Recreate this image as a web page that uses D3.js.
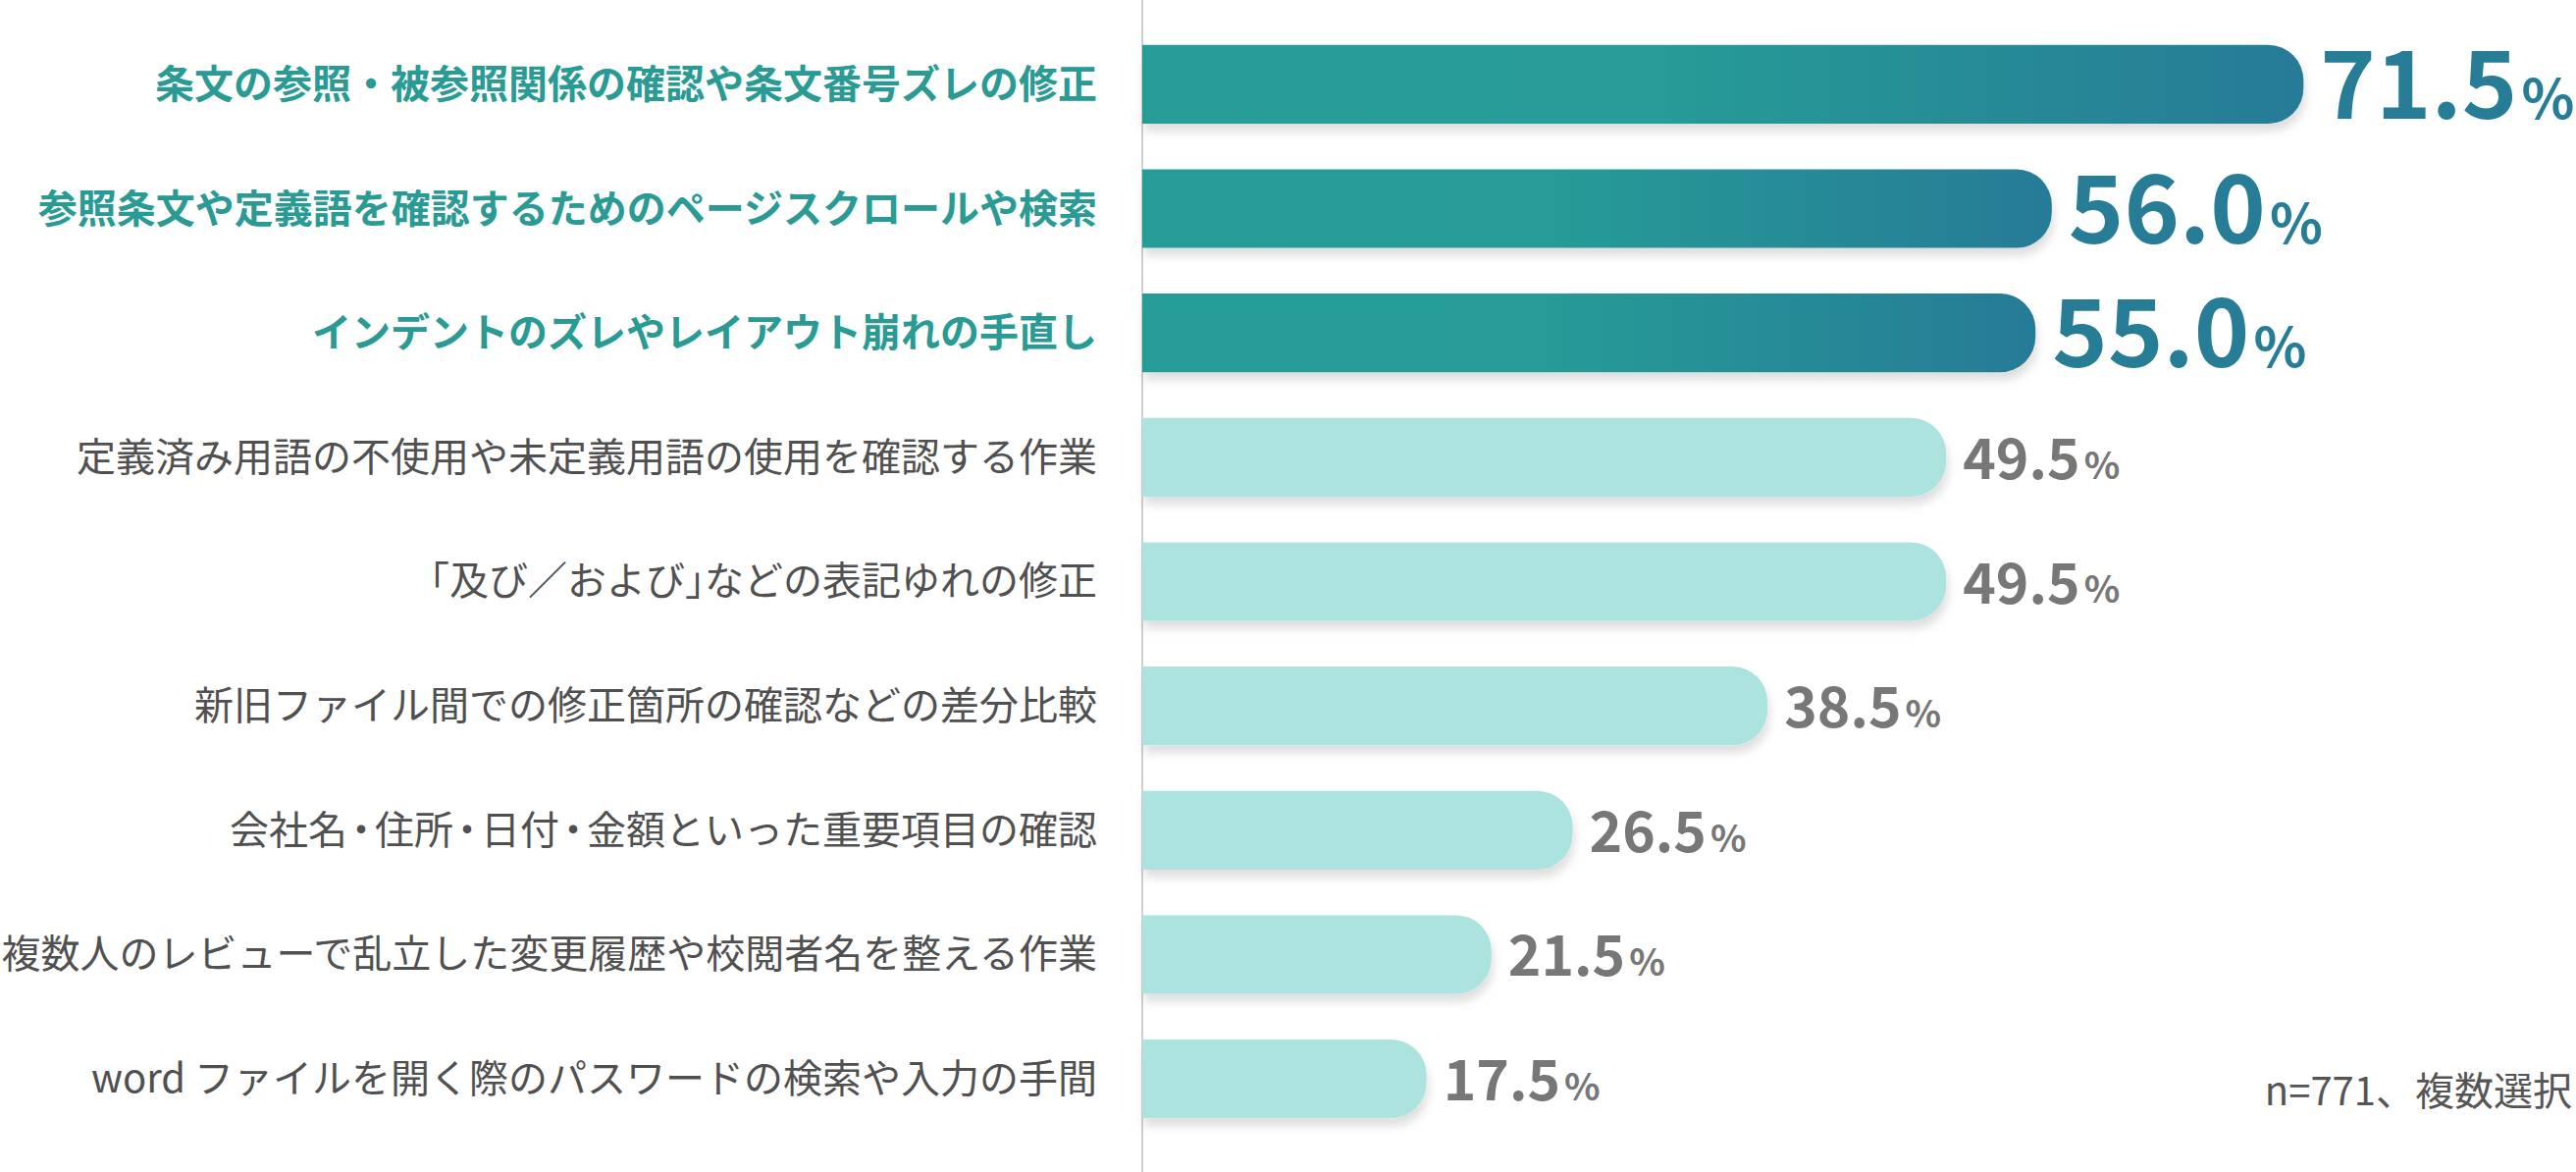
<!DOCTYPE html>
<html>
<head>
<meta charset="utf-8">
<script src="https://cdn.jsdelivr.net/npm/d3@7"></script>
<style>
  html, body { margin: 0; padding: 0; background: #fff; }
  svg { display: block; font-family: "Noto Sans CJK JP", "Noto Sans", sans-serif; }
  .halt { font-feature-settings: "halt"; }
</style>
</head>
<body>
<svg id="chart"></svg>
<script>
const categories = [
  '条文の参照・被参照関係の確認や条文番号ズレの修正',
  '参照条文や定義語を確認するためのページスクロールや検索',
  'インデントのズレやレイアウト崩れの手直し',
  '定義済み用語の不使用や未定義用語の使用を確認する作業',
  '「及び／および」などの表記ゆれの修正',
  '新旧ファイル間での修正箇所の確認などの差分比較',
  '会社名・住所・日付・金額といった重要項目の確認',
  '複数人のレビューで乱立した変更履歴や校閲者名を整える作業',
  'word ファイルを開く際のパスワードの検索や入力の手間'
];
const values = [71.5, 56.0, 55.0, 49.5, 49.5, 38.5, 26.5, 21.5, 17.5];
const topN = 3;
const note = 'n=771、複数選択';

let width = 2625, height = 1194;
let margin = { top: 23, bottom: 32, axis: 1164 };

let svg = d3.select('#chart')
  .attr('width', width)
  .attr('height', height);

let defs = svg.append('defs');

let grad = defs.append('linearGradient')
  .attr('id', 'darkGrad')
  .attr('x1', '0%').attr('x2', '100%');
grad.append('stop').attr('offset', '0%').attr('stop-color', '#289c97');
grad.append('stop').attr('offset', '45%').attr('stop-color', '#289b97');
grad.append('stop').attr('offset', '100%').attr('stop-color', '#267b96');

let shadow = defs.append('filter')
  .attr('id', 'shadow')
  .attr('x', '-5%').attr('y', '-20%')
  .attr('width', '110%').attr('height', '150%');
shadow.append('feDropShadow')
  .attr('dx', 2).attr('dy', 8)
  .attr('stdDeviation', 5)
  .attr('flood-color', '#000')
  .attr('flood-opacity', 0.13);

let xScale = d3.scaleLinear()
  .domain([0, 100])
  .range([margin.axis, margin.axis + 1655]);

let yScale = d3.scaleBand()
  .domain(categories)
  .range([margin.top, height - margin.bottom])
  .paddingInner(0.367)
  .paddingOuter(0.18);

let barH = yScale.bandwidth();
let r = 36;

// rounded on the right end only
let barPath = (w, h) => {
  let rr = Math.min(r, w, h / 2);
  return `M0,0 H${w - rr} A${rr},${rr} 0 0 1 ${w},${rr} V${h - rr} A${rr},${rr} 0 0 1 ${w - rr},${h} H0 Z`;
};

// vertical axis line
svg.append('line')
  .attr('x1', margin.axis).attr('x2', margin.axis)
  .attr('y1', 0).attr('y2', height)
  .attr('stroke', '#d0d0d0')
  .attr('stroke-width', 2);

let rows = svg.selectAll('.row')
  .data(categories)
  .enter()
  .append('g')
  .attr('class', 'row')
  .attr('transform', d => `translate(0, ${yScale(d)})`);

rows.append('path')
  .attr('transform', `translate(${xScale(0)}, 0)`)
  .attr('d', (d, i) => barPath(xScale(values[i]) - xScale(0), barH))
  .attr('fill', (d, i) => i < topN ? 'url(#darkGrad)' : '#ade3de')
  .attr('filter', 'url(#shadow)');

let labels = rows.append('text')
  .attr('x', 1118)
  .attr('y', barH / 2 + 14)
  .attr('text-anchor', 'end')
  .attr('font-size', 40)
  .attr('font-weight', (d, i) => i < topN ? 700 : 400)
  .attr('fill', (d, i) => i < topN ? '#2a9a94' : '#505050');

// plain labels set brackets and middle dots half width
labels.each(function(d, i) {
  let t = d3.select(this);
  if (i < topN) { t.text(d); return; }
  d.split(/([「」・])/).filter(s => s.length).forEach(s => {
    let sp = t.append('tspan').text(s);
    if (/^[「」・]$/.test(s)) sp.attr('class', 'halt');
    if (s === '・') sp.attr('dx', 4).style('letter-spacing', '4px');
  });
});

let valueText = rows.append('text')
  .attr('x', (d, i) => xScale(values[i]) + 17)
  .attr('y', (d, i) => barH / 2 + (i < topN ? 35 : 22))
  .attr('font-weight', 700)
  .attr('fill', (d, i) => i < topN ? '#277d96' : '#777777');

valueText.append('tspan')
  .attr('font-size', (d, i) => i < topN ? 96 : 57)
  .text((d, i) => values[i].toFixed(1));

valueText.append('tspan')
  .attr('dx', 4)
  .attr('font-size', (d, i) => i < topN ? 56 : 38)
  .text('%');

svg.append('text')
  .attr('x', 2621)
  .attr('y', 1126)
  .attr('text-anchor', 'end')
  .attr('font-size', 40)
  .attr('fill', '#555')
  .text(note);
</script>
</body>
</html>
